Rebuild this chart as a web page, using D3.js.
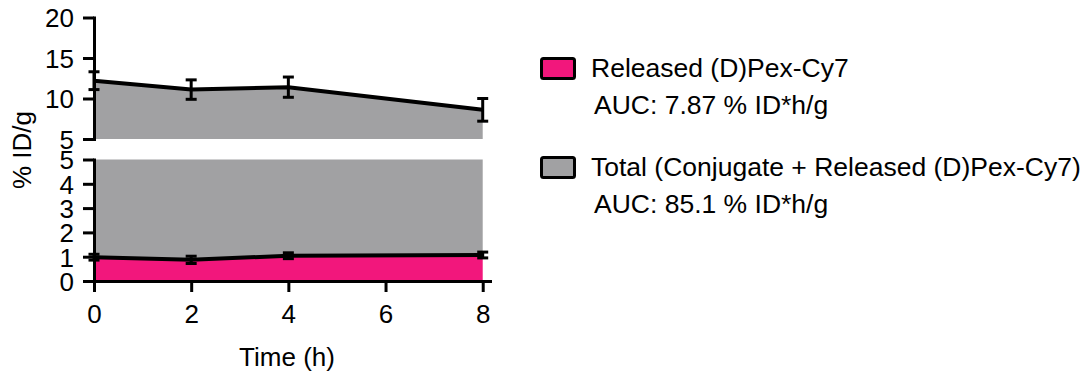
<!DOCTYPE html>
<html>
<head>
<meta charset="utf-8">
<script src="https://cdn.jsdelivr.net/npm/d3@7"></script>
<style>
  body { margin: 0; background: #fff; }
  svg { display: block; font-family: "Liberation Sans", Arial, sans-serif; }
  .axis path, .axis line { stroke: #000; stroke-width: 3; }
</style>
</head>
<body>
<svg id="chart" width="1091" height="377"></svg>
<script>
/* ---------- data ---------- */
const times = [0, 2, 4, 8];
const totalMean = [12.2, 11.1, 11.4, 8.6];
const totalErr = [1.1, 1.2, 1.25, 1.4];
const releasedMean = [0.98, 0.87, 1.04, 1.07];
const releasedErr = [0.12, 0.15, 0.12, 0.12];

const xTicks = [0, 2, 4, 6, 8];
const upperTicks = [5, 10, 15, 20];
const lowerTicks = [0, 1, 2, 3, 4, 5];

const legendLabels = ["Released (D)Pex-Cy7", "Total (Conjugate + Released (D)Pex-Cy7)"];
const legendAuc = ["AUC: 7.87 % ID*h/g", "AUC: 85.1 % ID*h/g"];
const legendColors = ["#f2177c", "#a1a1a3"];

const PINK = legendColors[0], GREY = legendColors[1];
const FONT = 26;

/* ---------- scales ---------- */
const svg = d3.select("#chart");
const x = d3.scaleLinear().domain([0, 8.15]).range([94, 490]);
const yUp = d3.scaleLinear().domain([5, 20]).range([139, 17.5]);
const yLo = d3.scaleLinear().domain([0, 5]).range([281, 159.5]);

const total = times.map((t, i) => ({ t, v: totalMean[i], e: totalErr[i] }));
const released = times.map((t, i) => ({ t, v: releasedMean[i], e: releasedErr[i] }));

/* ---------- areas ---------- */
// upper panel: total area down to the axis break at 5
svg.append("path")
  .datum(total)
  .attr("fill", GREY)
  .attr("d", d3.area().x(d => x(d.t)).y0(yUp(5)).y1(d => yUp(d.v)));

// lower panel: total runs off the top (5), released sits underneath
svg.append("path")
  .datum(released)
  .attr("fill", GREY)
  .attr("d", d3.area().x(d => x(d.t)).y0(yLo(5)).y1(d => yLo(d.v)));

svg.append("path")
  .datum(released)
  .attr("fill", PINK)
  .attr("d", d3.area().x(d => x(d.t)).y0(yLo(0)).y1(d => yLo(d.v)));

/* ---------- lines + error bars ---------- */
function drawSeries(data, y) {
  svg.append("path")
    .datum(data)
    .attr("fill", "none")
    .attr("stroke", "#000")
    .attr("stroke-width", 4)
    .attr("stroke-linejoin", "round")
    .attr("d", d3.line().x(d => x(d.t)).y(d => y(d.v)));

  const eb = svg.append("g").selectAll("g").data(data).join("g")
    .attr("stroke", "#000").attr("stroke-width", 3);
  eb.append("line")
    .attr("x1", d => x(d.t)).attr("x2", d => x(d.t))
    .attr("y1", d => y(d.v - d.e)).attr("y2", d => y(d.v + d.e));
  eb.append("line")
    .attr("x1", d => x(d.t) - 5.5).attr("x2", d => x(d.t) + 5.5)
    .attr("y1", d => y(d.v + d.e)).attr("y2", d => y(d.v + d.e));
  eb.append("line")
    .attr("x1", d => x(d.t) - 5.5).attr("x2", d => x(d.t) + 5.5)
    .attr("y1", d => y(d.v - d.e)).attr("y2", d => y(d.v - d.e));
}
drawSeries(total, yUp);
drawSeries(released, yLo);

/* ---------- axes ---------- */
const fmt = d3.format("d");

svg.append("g").attr("class", "axis")
  .attr("transform", "translate(94,0)")
  .call(d3.axisLeft(yUp).tickValues(upperTicks).tickFormat(fmt).tickSize(11).tickPadding(9).tickSizeOuter(0))
  .selectAll("text").attr("dy", "0.36em");

svg.append("g").attr("class", "axis")
  .attr("transform", "translate(94,0)")
  .call(d3.axisLeft(yLo).tickValues(lowerTicks).tickFormat(fmt).tickSize(11).tickPadding(9).tickSizeOuter(0))
  .selectAll("text").attr("dy", "0.36em");

svg.append("g").attr("class", "axis")
  .attr("transform", `translate(0,${yLo(0)})`)
  .call(d3.axisBottom(x).tickValues(xTicks).tickFormat(fmt).tickSize(11).tickPadding(13).tickSizeOuter(0));

svg.selectAll(".axis")
  .attr("font-family", null).attr("font-size", FONT);
svg.selectAll(".axis text").attr("fill", "#000");
svg.selectAll(".axis .domain").attr("stroke-linecap", "square");

/* ---------- axis titles ---------- */
svg.append("text")
  .attr("x", 287).attr("y", 366)
  .attr("text-anchor", "middle")
  .attr("font-size", FONT)
  .text("Time (h)");

svg.append("text")
  .attr("transform", "rotate(-90)")
  .attr("x", -150).attr("y", 31)
  .attr("text-anchor", "middle")
  .attr("font-size", FONT)
  .text("% ID/g");

/* ---------- legend ---------- */
const legendY = [57, 156];
const leg = svg.append("g").selectAll("g").data(legendLabels).join("g")
  .attr("transform", (d, i) => `translate(540,${legendY[i]})`);

leg.append("rect")
  .attr("x", 1.5).attr("y", 1.5)
  .attr("width", 33).attr("height", 20)
  .attr("rx", 2)
  .attr("fill", (d, i) => legendColors[i])
  .attr("stroke", "#000").attr("stroke-width", 3);

leg.append("text")
  .attr("x", 51).attr("y", 20)
  .attr("font-size", 26.5)
  .text(d => d);

leg.append("text")
  .attr("x", 54).attr("y", 57)
  .attr("font-size", 26.5)
  .text((d, i) => legendAuc[i]);
</script>
</body>
</html>
